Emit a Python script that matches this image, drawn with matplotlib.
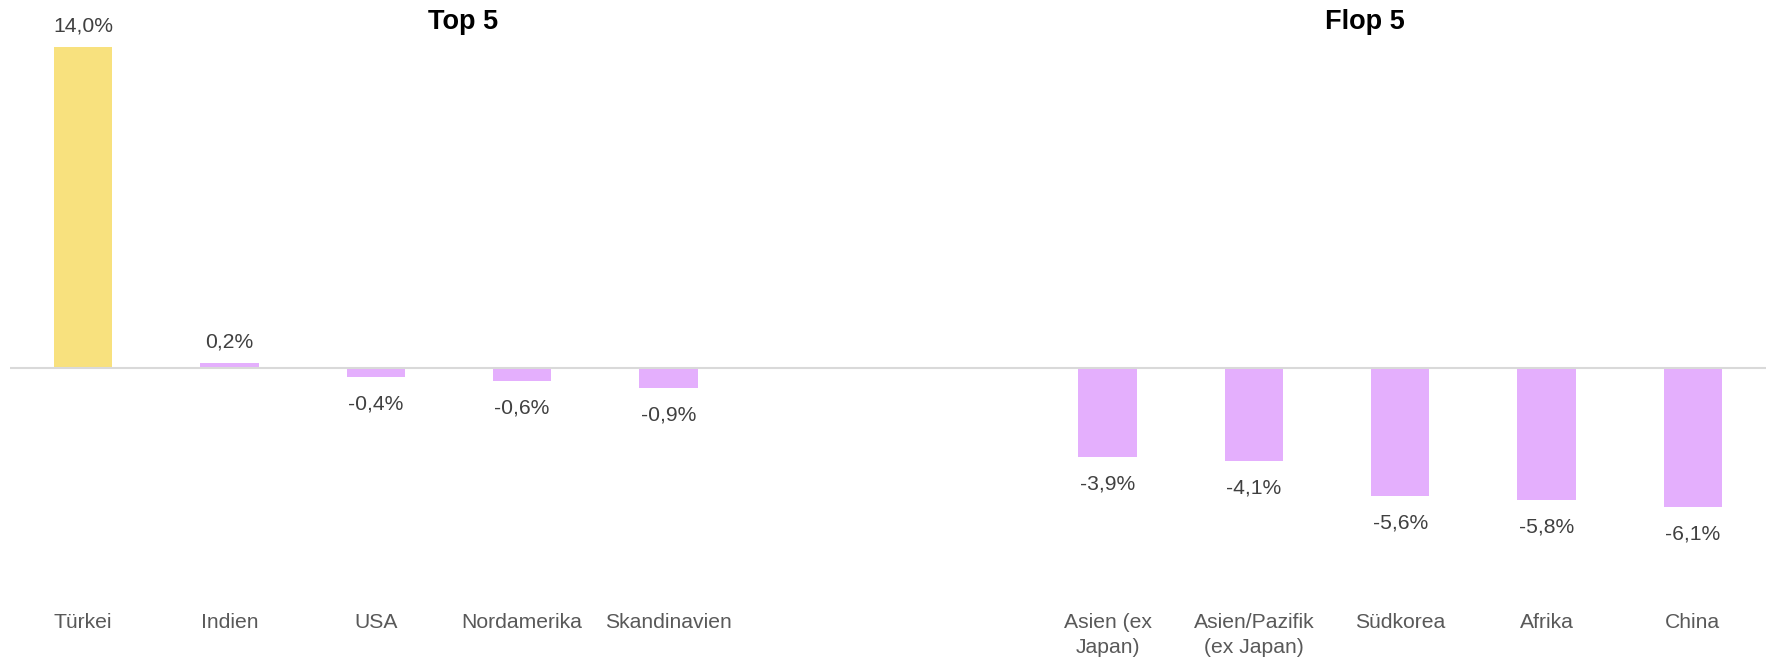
import matplotlib
matplotlib.use("Agg")
import matplotlib.pyplot as plt

plt.rcParams["font.family"] = ["Liberation Sans", "DejaVu Sans"]

# slots 5 and 6 are left empty to separate the two groups
labels = ["Türkei", "Indien", "USA", "Nordamerika", "Skandinavien", "", "",
          "Asien (ex\nJapan)", "Asien/Pazifik\n(ex Japan)", "Südkorea", "Afrika", "China"]
positions = [0, 1, 2, 3, 4, 7, 8, 9, 10, 11]
values = [14.0, 0.2, -0.4, -0.6, -0.9, -3.9, -4.1, -5.6, -5.8, -6.1]
colors = ["#F8E17E"] + ["#E4AFFD"] * 9

W, H = 1769, 658
fig = plt.figure(figsize=(W / 100, H / 100), dpi=100)

ZERO_PX, TOP_PX, BOT_PX = 367.5, 30, 600
SCALE = 22.9
X0, X1 = 10, 1766

ax = fig.add_axes([X0 / W, 1 - BOT_PX / H, (X1 - X0) / W, (BOT_PX - TOP_PX) / H])
ax.set_xlim(-0.5, len(labels) - 0.5)
ax.set_ylim(-(BOT_PX - ZERO_PX) / SCALE, (ZERO_PX - TOP_PX) / SCALE)
for s in ax.spines.values():
    s.set_visible(False)
ax.set_yticks([])
ax.axhline(0, color="#D9D9D9", linewidth=1.5, zorder=3)

ax.bar(positions, values, width=0.4, color=colors, zorder=2)
for xi, v in zip(positions, values):
    txt = f"{v:.1f}%".replace(".", ",")
    if v >= 0:
        ax.annotate(txt, (xi, v), xytext=(0, 8.5), textcoords="offset points",
                    ha="center", va="bottom", fontsize=15.2, color="#404040")
    else:
        ax.annotate(txt, (xi, v), xytext=(0, -12.5), textcoords="offset points",
                    ha="center", va="top", fontsize=15.2, color="#404040")

ax.set_xticks(range(len(labels)))
ax.set_xticklabels(labels, fontsize=15.2, color="#595959", linespacing=1.43)
ax.tick_params(axis="x", length=0, pad=9.3)

fig.text(463 / W, 1 - 22 / H, "Top 5", ha="center", va="center",
         fontsize=19.5, fontweight="bold", color="black")
fig.text(1365 / W, 1 - 22 / H, "Flop 5", ha="center", va="center",
         fontsize=19.5, fontweight="bold", color="black")

fig.savefig("out.png", dpi=100)
